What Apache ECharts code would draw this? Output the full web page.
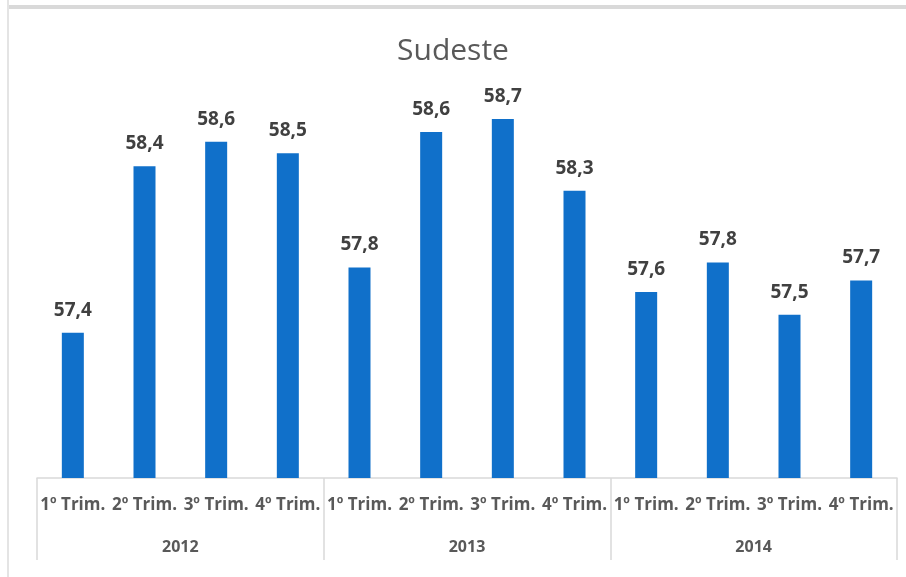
<!DOCTYPE html>
<html>
<head>
<meta charset="utf-8">
<script src="https://cdn.jsdelivr.net/npm/echarts@6/dist/echarts.min.js"></script>
<style>
  html, body { margin: 0; padding: 0; background: #fff; }
  #chart { width: 906px; height: 577px; }
</style>
</head>
<body>
<div id="chart"></div>
<script>
// quarters (12 categories, 4 per year)
const quarters = [
  '1º Trim.', '2º Trim.', '3º Trim.', '4º Trim.',
  '1º Trim.', '2º Trim.', '3º Trim.', '4º Trim.',
  '1º Trim.', '2º Trim.', '3º Trim.', '4º Trim.'
]
const years = ['2012', '2013', '2014']
// values (labels shown rounded to one decimal)
const values = [57.39, 58.41, 58.56, 58.49, 57.79, 58.62, 58.70, 58.26, 57.64, 57.82, 57.50, 57.71]

const myChart = echarts.init(document.getElementById('chart'))

const textColor = '#595959'
const lineColor = '#d9d9d9'
const font = '"Open Sans", "Noto Sans", sans-serif'

const option = {
  animation: false,
  backgroundColor: '#fff',
  title: {
    text: 'Sudeste',
    left: 'center',
    top: 31,
    textStyle: {
      color: textColor,
      fontSize: 30,
      fontWeight: 'normal',
      fontFamily: font,
    },
  },
  graphic: [
    { type: 'rect', shape: { x: 9, y: 5, width: 897, height: 4 }, style: { fill: '#d9d9d9' }, silent: true },
    { type: 'rect', shape: { x: 7, y: 0, width: 2, height: 577 }, style: { fill: '#e4e4e4' }, silent: true },
  ],
  grid: {
    left: 37,
    right: 9,
    top: 70,
    bottom: 99,
  },
  xAxis: [
    {
      type: 'category',
      data: quarters,
      axisLine: { lineStyle: { color: lineColor, width: 1.5 } },
      axisTick: { show: false },
      axisLabel: {
        interval: 0,
        color: textColor,
        fontSize: 17,
        fontWeight: 'bold',
        fontFamily: font,
        margin: 19,
      },
    },
    {
      type: 'category',
      data: years,
      position: 'bottom',
      offset: 82,
      axisLine: { show: false },
      axisTick: {
        show: true,
        inside: true,
        length: 82,
        lineStyle: { color: lineColor, width: 1.5 },
      },
      axisLabel: {
        inside: true,
        interval: 0,
        color: textColor,
        fontSize: 16,
        fontWeight: 'bold',
        fontFamily: font,
        margin: 5,
      },
    },
  ],
  yAxis: {
    type: 'value',
    min: 56.5,
    max: 59,
    show: false,
    splitLine: { show: false },
  },
  series: [
    {
      type: 'bar',
      xAxisIndex: 0,
      data: values,
      barWidth: 22,
      itemStyle: { color: '#1070ca' },
      label: {
        show: true,
        position: 'top',
        distance: 13,
        color: '#404040',
        fontSize: 19,
        fontWeight: 'bold',
        fontFamily: font,
        formatter: p => p.value.toFixed(1).replace('.', ','),
      },
    },
  ],
}

option && myChart.setOption(option)
</script>
</body>
</html>
